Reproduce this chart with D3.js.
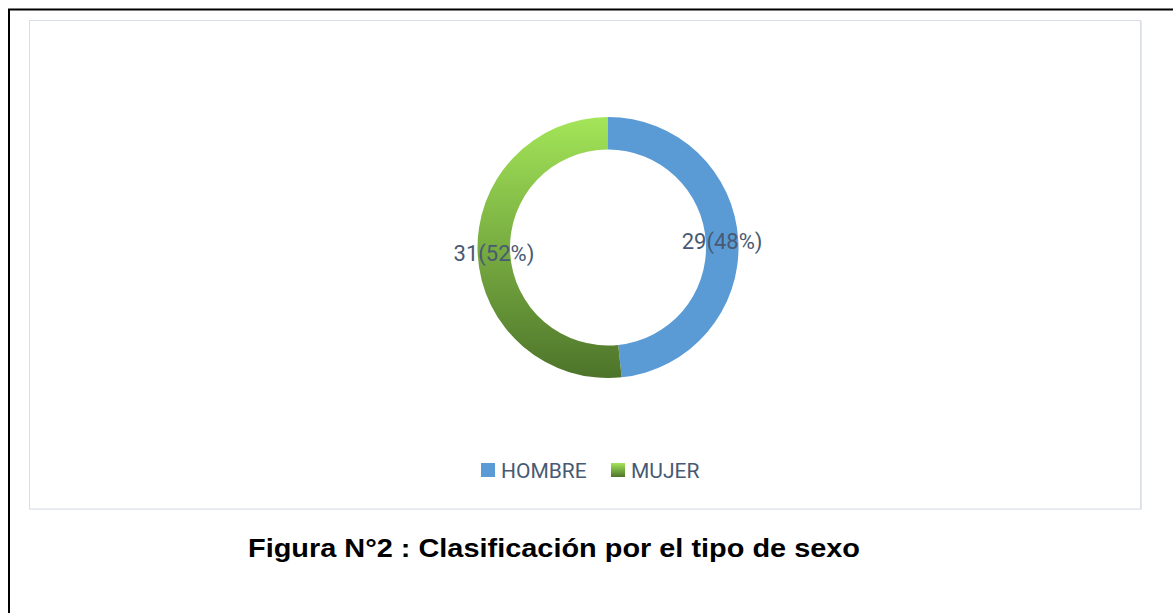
<!DOCTYPE html>
<html>
<head>
<meta charset="utf-8">
<script src="https://cdn.jsdelivr.net/npm/d3@7"></script>
<style>
  body { margin: 0; background: #fff; }
  svg { display: block; }
</style>
</head>
<body>
<svg id="chart" width="1173" height="613"></svg>
<script>
// chart data
const categories = ['HOMBRE', 'MUJER'];
const counts = [29, 31];
const percents = [48, 52];

const width = 1173, height = 613;
const svg = d3.select('#chart');

// page frame (black) and the chart box (light gray)
svg.append('path')
  .attr('d', `M9,${height} L9,9.5 L${width},9.5`)
  .attr('fill', 'none')
  .attr('stroke', '#000')
  .attr('stroke-width', 2);

svg.append('rect')
  .attr('x', 29.5).attr('y', 20.5)
  .attr('width', 1111).attr('height', 488.5)
  .attr('fill', '#fff')
  .attr('stroke', '#d9dee6')
  .attr('stroke-width', 1);
svg.append('path')
  .attr('d', 'M30,509.5 L1141.5,509.5 L1141.5,21')
  .attr('fill', 'none')
  .attr('stroke', '#e4e8ee')
  .attr('stroke-width', 1);

const defs = svg.append('defs');
const cx = 608, cy = 247.5, outerR = 130.5, innerR = 98;

// gradient for the green slice (local coords of the donut group)
const grad = defs.append('linearGradient')
  .attr('id', 'greenGrad')
  .attr('gradientUnits', 'userSpaceOnUse')
  .attr('x1', 0).attr('x2', 0)
  .attr('y1', -outerR).attr('y2', outerR);
grad.append('stop').attr('offset', '0%').attr('stop-color', '#a3e558');
grad.append('stop').attr('offset', '100%').attr('stop-color', '#4d742a');

const legGrad = defs.append('linearGradient')
  .attr('id', 'greenLeg')
  .attr('x1', 0).attr('x2', 0).attr('y1', 0).attr('y2', 1);
legGrad.append('stop').attr('offset', '0%').attr('stop-color', '#a3e558');
legGrad.append('stop').attr('offset', '100%').attr('stop-color', '#4d742a');

const color = d3.scaleOrdinal()
  .domain(categories)
  .range(['#5b9bd5', 'url(#greenGrad)']);
const legendColor = d3.scaleOrdinal()
  .domain(categories)
  .range(['#5b9bd5', 'url(#greenLeg)']);

const data = categories.map((c, i) => ({ cat: c, value: counts[i], pct: percents[i] }));

const pie = d3.pie().sort(null).value(d => d.value);
const arc = d3.arc().innerRadius(innerR).outerRadius(outerR);

const g = svg.append('g').attr('transform', `translate(${cx},${cy})`);
const arcs = pie(data);

g.selectAll('path.slice')
  .data(arcs)
  .enter()
  .append('path')
  .attr('class', 'slice')
  .attr('d', arc)
  .attr('fill', d => color(d.data.cat));

// labels at the middle of each ring segment
g.selectAll('text.lbl')
  .data(arcs)
  .enter()
  .append('text')
  .attr('class', 'lbl')
  .attr('transform', d => `translate(${arc.centroid(d)})`)
  .attr('text-anchor', 'middle')
  .attr('dy', '0.36em')
  .attr('font-family', 'Roboto, sans-serif')
  .attr('font-size', 22)
  .attr('fill', '#485a73')
  .text(d => `${d.data.value}(${d.data.pct}%)`);

// legend
const legend = svg.append('g').attr('transform', 'translate(481,462)');
const legX = [0, 130];
const items = legend.selectAll('g.item')
  .data(categories)
  .enter()
  .append('g')
  .attr('class', 'item')
  .attr('transform', (d, i) => `translate(${legX[i]},0)`);
items.append('rect')
  .attr('y', 1)
  .attr('width', 14).attr('height', 14)
  .attr('fill', d => legendColor(d));
items.append('text')
  .attr('x', 20).attr('y', 15.5)
  .attr('font-family', 'Roboto, sans-serif')
  .attr('font-size', 21)
  .attr('fill', '#485a73')
  .text(d => d);

// caption
svg.append('text')
  .attr('x', 248).attr('y', 557)
  .attr('font-family', '"Liberation Sans", Arial, sans-serif')
  .attr('font-weight', 'bold')
  .attr('font-size', 26.5)
  .attr('textLength', 612)
  .attr('lengthAdjust', 'spacingAndGlyphs')
  .attr('fill', '#000')
  .text('Figura N°2 : Clasificación por el tipo de sexo');
</script>
</body>
</html>
